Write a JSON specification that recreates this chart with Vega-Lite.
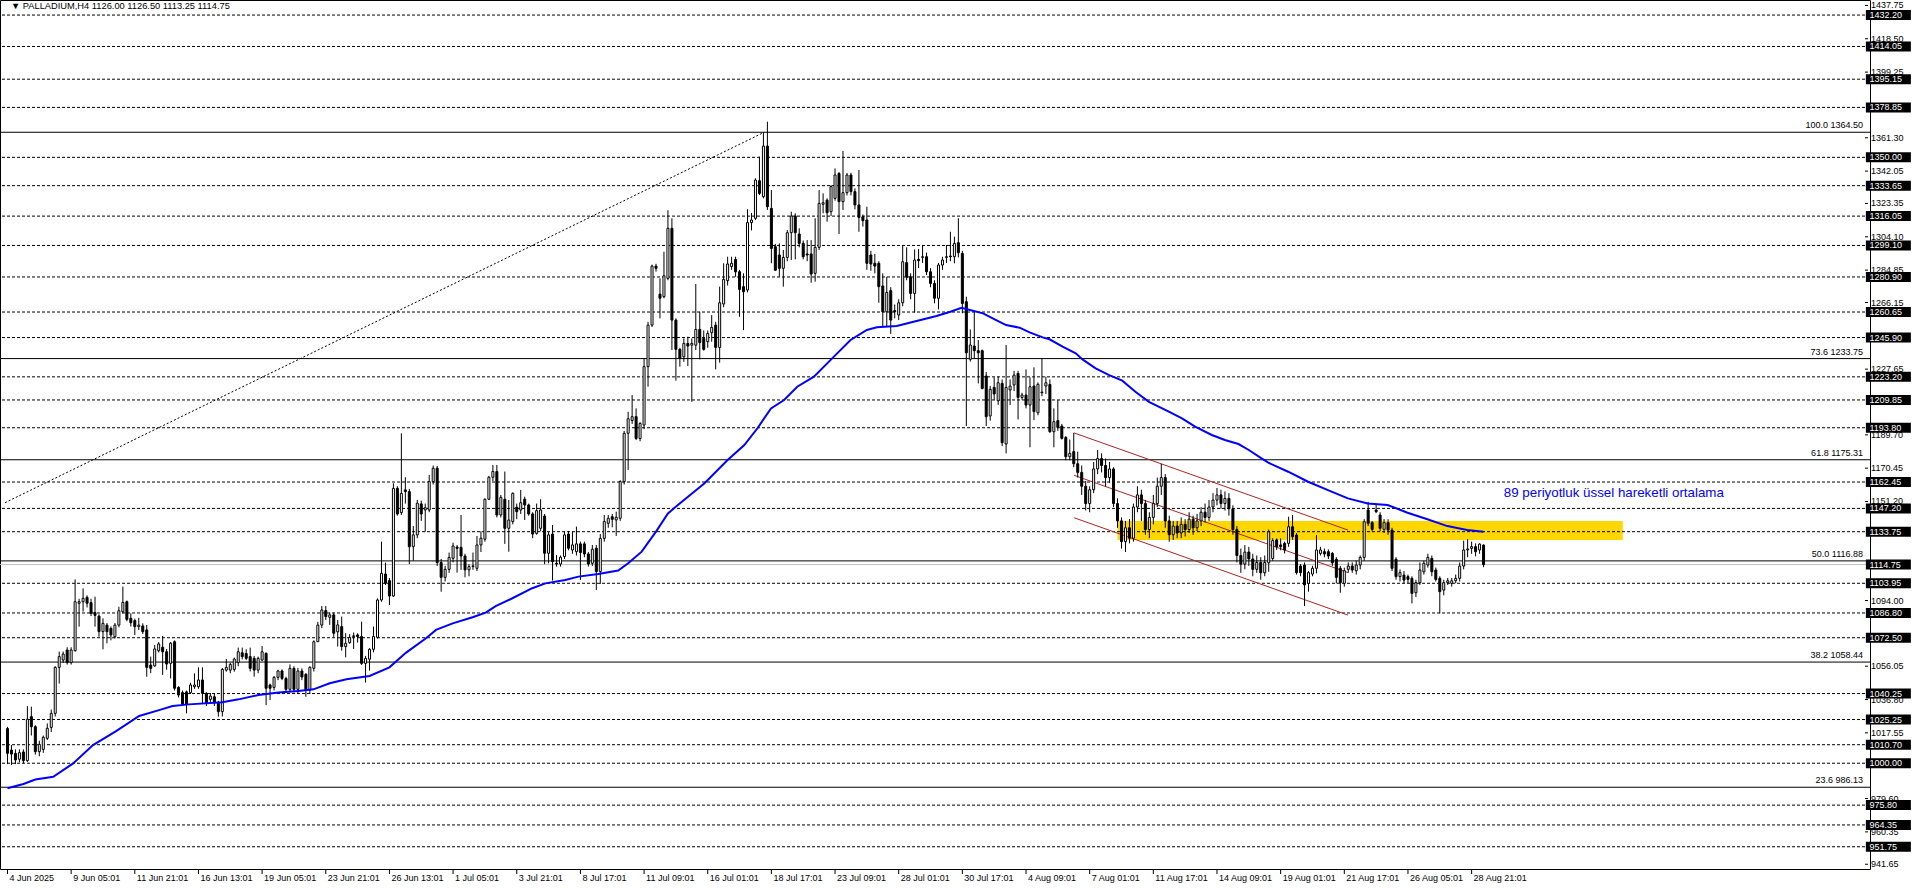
{
"$schema": "https://vega.github.io/schema/vega-lite/v6.json",
"width": 1870, "height": 869,
"autosize": {"type": "none"},
"padding": {"left": 0, "top": 0, "right": 46, "bottom": 19},
"background": "white",
"config": {"view": {"stroke": "black", "strokeWidth": 1}, "font": "Liberation Sans"},
"datasets": {
"candles": [
{"i":0,"o":1020,"h":1021,"l":999.5,"c":1005.7},{"i":1,"o":1007.6,"h":1010.5,"l":999,"c":1005.3},{"i":2,"o":1005.7,"h":1008,"l":999.5,"c":1001.9},{"i":3,"o":1002.3,"h":1008,"l":1000.5,"c":1006.1},{"i":4,"o":1006.5,"h":1008,"l":1000,"c":1001.5},
{"i":5,"o":1001.5,"h":1033,"l":1000.8,"c":1025.4},{"i":6,"o":1026.9,"h":1032.7,"l":1016,"c":1021.1},{"i":7,"o":1021.1,"h":1022,"l":1005,"c":1006.7},{"i":8,"o":1006.7,"h":1013,"l":1004,"c":1010.9},{"i":9,"o":1008,"h":1016,"l":1006,"c":1015},
{"i":10,"o":1014.4,"h":1023,"l":1013.4,"c":1020.2},{"i":11,"o":1020.7,"h":1031,"l":1018,"c":1028.8},{"i":12,"o":1028.8,"h":1056,"l":1027,"c":1055.4},{"i":13,"o":1055.4,"h":1064.5,"l":1046,"c":1061.6},{"i":14,"o":1059.6,"h":1064.5,"l":1058,"c":1063.1},
{"i":15,"o":1065.4,"h":1067,"l":1057,"c":1058.1},{"i":16,"o":1058.1,"h":1067,"l":1057,"c":1065.4},{"i":17,"o":1065,"h":1106.2,"l":1064.5,"c":1093.3},{"i":18,"o":1092.4,"h":1095,"l":1078.9,"c":1093.3},{"i":19,"o":1093.3,"h":1101,"l":1087.6,"c":1095.3},
{"i":20,"o":1095.8,"h":1097,"l":1090,"c":1092.4},{"i":21,"o":1092.8,"h":1095,"l":1085,"c":1086.6},{"i":22,"o":1087,"h":1096.2,"l":1078.9,"c":1085.4},{"i":23,"o":1085,"h":1086,"l":1073.1,"c":1076},{"i":24,"o":1076,"h":1083.7,"l":1065.8,"c":1080.8},
{"i":25,"o":1079.8,"h":1081,"l":1069.3,"c":1076},{"i":26,"o":1077.9,"h":1079,"l":1071,"c":1074.1},{"i":27,"o":1073.1,"h":1081,"l":1072,"c":1079.8},{"i":28,"o":1079.8,"h":1090.4,"l":1078.5,"c":1088.1},{"i":29,"o":1087.5,"h":1102,"l":1086.6,"c":1092.9},
{"i":30,"o":1093.3,"h":1094,"l":1082,"c":1083.1},{"i":31,"o":1083.7,"h":1086.6,"l":1079,"c":1081.2},{"i":32,"o":1082.4,"h":1083.5,"l":1074,"c":1078.9},{"i":33,"o":1078.9,"h":1084,"l":1077,"c":1079.8},{"i":34,"o":1079.3,"h":1080.8,"l":1074.7,"c":1076},
{"i":35,"o":1077,"h":1079.8,"l":1050,"c":1055.4},{"i":36,"o":1056.7,"h":1061.6,"l":1052,"c":1054.8},{"i":37,"o":1056.2,"h":1068.3,"l":1055.8,"c":1066},{"i":38,"o":1065,"h":1070,"l":1064,"c":1068.9},{"i":39,"o":1067,"h":1073.5,"l":1051,"c":1064.4},
{"i":40,"o":1064.4,"h":1066,"l":1054,"c":1057.3},{"i":41,"o":1057.7,"h":1070,"l":1049,"c":1069.3},{"i":42,"o":1070.2,"h":1071,"l":1042,"c":1043.3},{"i":43,"o":1043.8,"h":1044.5,"l":1038,"c":1039.4},{"i":44,"o":1040.8,"h":1042,"l":1033.4,"c":1034.2},
{"i":45,"o":1041.2,"h":1042,"l":1028.8,"c":1034.2},{"i":46,"o":1040.8,"h":1046.5,"l":1040,"c":1045.2},{"i":47,"o":1044.2,"h":1051.9,"l":1043,"c":1045.2},{"i":48,"o":1044.2,"h":1055.4,"l":1043,"c":1048.1},{"i":49,"o":1048.1,"h":1055.4,"l":1034.6,"c":1040.4},
{"i":50,"o":1040.4,"h":1041,"l":1033,"c":1035},{"i":51,"o":1036.9,"h":1040.6,"l":1035,"c":1038.8},{"i":52,"o":1038.4,"h":1040,"l":1033,"c":1035},{"i":53,"o":1035,"h":1036,"l":1026.9,"c":1029.8},{"i":54,"o":1029.8,"h":1055,"l":1027,"c":1054.2},
{"i":55,"o":1053.8,"h":1060.2,"l":1052.9,"c":1055.4},{"i":56,"o":1053.8,"h":1058,"l":1052,"c":1057.1},{"i":57,"o":1054.2,"h":1061,"l":1052.9,"c":1060.2},{"i":58,"o":1058.1,"h":1066.8,"l":1056,"c":1064.4},{"i":59,"o":1063.8,"h":1066.8,"l":1060,"c":1061.6},
{"i":60,"o":1063.4,"h":1065.8,"l":1059.6,"c":1060.6},{"i":61,"o":1061.6,"h":1066.8,"l":1053,"c":1054.8},{"i":62,"o":1060.6,"h":1062,"l":1050,"c":1053.8},{"i":63,"o":1053.8,"h":1061.6,"l":1052,"c":1060.6},{"i":64,"o":1059.6,"h":1067.7,"l":1059,"c":1064.4},
{"i":65,"o":1063.5,"h":1064,"l":1033.6,"c":1043.3},{"i":66,"o":1045.2,"h":1046,"l":1036.5,"c":1043.3},{"i":67,"o":1043.8,"h":1050.4,"l":1042,"c":1049.6},{"i":68,"o":1049.6,"h":1054,"l":1048,"c":1053.3},{"i":69,"o":1053.3,"h":1054.2,"l":1048,"c":1049},
{"i":70,"o":1049,"h":1050,"l":1041,"c":1042.7},{"i":71,"o":1042.7,"h":1057.1,"l":1041,"c":1054.8},{"i":72,"o":1054.8,"h":1056,"l":1041,"c":1042.7},{"i":73,"o":1042.7,"h":1055,"l":1040,"c":1053.3},{"i":74,"o":1053.3,"h":1054.8,"l":1048,"c":1049.8},
{"i":75,"o":1051.4,"h":1052,"l":1038.4,"c":1042.3},{"i":76,"o":1042.3,"h":1056,"l":1040,"c":1055.4},{"i":77,"o":1054.8,"h":1071,"l":1053,"c":1070.2},{"i":78,"o":1070.2,"h":1081.7,"l":1070,"c":1079.8},{"i":79,"o":1079.8,"h":1090.8,"l":1078,"c":1088.5},
{"i":80,"o":1088.2,"h":1090.8,"l":1082.8,"c":1084.7},{"i":81,"o":1084.3,"h":1087,"l":1079.9,"c":1085.7},{"i":82,"o":1085.7,"h":1087,"l":1073,"c":1075.1},{"i":83,"o":1075.9,"h":1082.8,"l":1067.4,"c":1079.9},{"i":84,"o":1078.9,"h":1084.7,"l":1065,"c":1067.4},
{"i":85,"o":1067.4,"h":1075.1,"l":1061.2,"c":1069.3},{"i":86,"o":1069.7,"h":1074.6,"l":1069,"c":1072.7},{"i":87,"o":1073.2,"h":1075.5,"l":1066,"c":1073.6},{"i":88,"o":1074.1,"h":1075.1,"l":1069.7,"c":1073.2},{"i":89,"o":1073.2,"h":1081.8,"l":1056.8,"c":1057.7},
{"i":90,"o":1057.7,"h":1062,"l":1046.6,"c":1060.6},{"i":91,"o":1060.1,"h":1066.5,"l":1053.5,"c":1065.8},{"i":92,"o":1065.8,"h":1078.9,"l":1064,"c":1073.2},{"i":93,"o":1072.7,"h":1095.2,"l":1072,"c":1094.3},{"i":94,"o":1094.3,"h":1128,"l":1093.3,"c":1109.7},
{"i":95,"o":1109.3,"h":1115.9,"l":1103,"c":1103.9},{"i":96,"o":1105.5,"h":1107,"l":1091.4,"c":1096.6},{"i":97,"o":1096.6,"h":1161.7,"l":1096,"c":1158.8},{"i":98,"o":1158.8,"h":1160,"l":1143,"c":1144},{"i":99,"o":1144.8,"h":1190.6,"l":1143.4,"c":1155.9},
{"i":100,"o":1157.9,"h":1165.2,"l":1150,"c":1156.9},{"i":101,"o":1156.9,"h":1158.5,"l":1115.1,"c":1125.1},{"i":102,"o":1125.1,"h":1137,"l":1117,"c":1131.9},{"i":103,"o":1131.9,"h":1152.1,"l":1130,"c":1150.2},{"i":104,"o":1149.8,"h":1151.7,"l":1140,"c":1144},
{"i":105,"o":1146.3,"h":1150,"l":1133.8,"c":1147.6},{"i":106,"o":1146.3,"h":1166.5,"l":1145,"c":1162.7},{"i":107,"o":1162.7,"h":1172,"l":1161,"c":1170.4},{"i":108,"o":1170.4,"h":1171.7,"l":1114,"c":1115.9},{"i":109,"o":1115.9,"h":1118,"l":1099.1,"c":1107.4},
{"i":110,"o":1107.4,"h":1114,"l":1105,"c":1112},{"i":111,"o":1112,"h":1121.7,"l":1110,"c":1118.9},{"i":112,"o":1118.4,"h":1127.4,"l":1116,"c":1125.5},{"i":113,"o":1124.9,"h":1126,"l":1110.1,"c":1124.1},{"i":114,"o":1124.7,"h":1143.4,"l":1111.7,"c":1119.7},
{"i":115,"o":1119.7,"h":1121,"l":1107.4,"c":1111.7},{"i":116,"o":1111.7,"h":1115,"l":1108,"c":1113.6},{"i":117,"o":1113.6,"h":1121.7,"l":1111.7,"c":1114},{"i":118,"o":1112.6,"h":1131.3,"l":1111,"c":1126.1},{"i":119,"o":1126.1,"h":1134,"l":1122,"c":1130},
{"i":120,"o":1129.4,"h":1153,"l":1128,"c":1152.5},{"i":121,"o":1152.5,"h":1166,"l":1152,"c":1165.2},{"i":122,"o":1165.2,"h":1172.3,"l":1163,"c":1168.5},{"i":123,"o":1168.5,"h":1172.3,"l":1142,"c":1143.4},{"i":124,"o":1143.4,"h":1155,"l":1142,"c":1153.6},
{"i":125,"o":1152.5,"h":1168.5,"l":1126.7,"c":1135.7},{"i":126,"o":1135.7,"h":1152.1,"l":1122.2,"c":1140.5},{"i":127,"o":1139.6,"h":1156.5,"l":1138,"c":1155.9},{"i":128,"o":1147.9,"h":1150,"l":1141,"c":1145.3},{"i":129,"o":1146.3,"h":1157.9,"l":1144,"c":1150.5},
{"i":130,"o":1152.5,"h":1154,"l":1140.5,"c":1149.2},{"i":131,"o":1149.2,"h":1150,"l":1143,"c":1144},{"i":132,"o":1144,"h":1145,"l":1130,"c":1132.4},{"i":133,"o":1132.8,"h":1150,"l":1132,"c":1145.9},{"i":134,"o":1135.7,"h":1152.5,"l":1134,"c":1146.3},
{"i":135,"o":1142.8,"h":1144,"l":1115,"c":1121.3},{"i":136,"o":1121.3,"h":1133.5,"l":1115.5,"c":1131.9},{"i":137,"o":1132.4,"h":1137.6,"l":1105.5,"c":1116.5},{"i":138,"o":1115.5,"h":1120.3,"l":1113.6,"c":1115.1},{"i":139,"o":1115.1,"h":1120,"l":1113.6,"c":1119},
{"i":140,"o":1119.4,"h":1133.8,"l":1118,"c":1131.9},{"i":141,"o":1132.4,"h":1134.2,"l":1123,"c":1124.2},{"i":142,"o":1123.2,"h":1133.8,"l":1121,"c":1126.1},{"i":143,"o":1122.2,"h":1136.7,"l":1120,"c":1126.7},{"i":144,"o":1126.7,"h":1128,"l":1105.9,"c":1121.7},
{"i":145,"o":1126.7,"h":1128,"l":1119,"c":1120.9},{"i":146,"o":1120.9,"h":1122,"l":1113.6,"c":1115.1},{"i":147,"o":1115.5,"h":1126.1,"l":1114,"c":1123.6},{"i":148,"o":1124.2,"h":1126.1,"l":1100.1,"c":1110.7},{"i":149,"o":1110.7,"h":1132.4,"l":1103.6,"c":1129.9},
{"i":150,"o":1129.9,"h":1143.4,"l":1128,"c":1139.6},{"i":151,"o":1138.6,"h":1143.4,"l":1136,"c":1141.5},{"i":152,"o":1142.4,"h":1144,"l":1136.3,"c":1140.9},{"i":153,"o":1140.5,"h":1145.3,"l":1131.3,"c":1142.1},{"i":154,"o":1141.5,"h":1163.5,"l":1140,"c":1162.7},
{"i":155,"o":1162.7,"h":1192,"l":1161,"c":1190.6},{"i":156,"o":1190.6,"h":1203,"l":1169.4,"c":1199},{"i":157,"o":1198,"h":1212.7,"l":1196,"c":1200.2},{"i":158,"o":1200.2,"h":1205,"l":1186.7,"c":1187.6},{"i":159,"o":1187.6,"h":1197,"l":1186,"c":1196.3},
{"i":160,"o":1195.4,"h":1234,"l":1193,"c":1229.1},{"i":161,"o":1229.1,"h":1255,"l":1217.5,"c":1253.1},{"i":162,"o":1253.1,"h":1288,"l":1252,"c":1287.2},{"i":163,"o":1287.2,"h":1288.5,"l":1284,"c":1285.9},{"i":164,"o":1271,"h":1280.1,"l":1257,"c":1268.6},
{"i":165,"o":1269.5,"h":1295.5,"l":1268.6,"c":1281.6},{"i":166,"o":1280.1,"h":1319.4,"l":1279,"c":1309},{"i":167,"o":1309,"h":1314.8,"l":1238.7,"c":1256},{"i":168,"o":1256,"h":1257,"l":1221,"c":1239.1},{"i":169,"o":1239.1,"h":1240,"l":1229.1,"c":1233.9},
{"i":170,"o":1234.8,"h":1245.4,"l":1231.9,"c":1242.5},{"i":171,"o":1242.5,"h":1246.4,"l":1229.5,"c":1241},{"i":172,"o":1241.5,"h":1245.4,"l":1208.8,"c":1242.5},{"i":173,"o":1241.5,"h":1276.8,"l":1238.7,"c":1250.6},{"i":174,"o":1250.6,"h":1260.8,"l":1233.3,"c":1243},
{"i":175,"o":1245.4,"h":1250,"l":1238.3,"c":1239.1},{"i":176,"o":1243.5,"h":1250,"l":1240,"c":1248.3},{"i":177,"o":1248.7,"h":1258.9,"l":1243.5,"c":1251.8},{"i":178,"o":1253.1,"h":1255,"l":1227.5,"c":1240.2},{"i":179,"o":1240.2,"h":1275.3,"l":1231.4,"c":1266},
{"i":180,"o":1265.3,"h":1288.8,"l":1263.4,"c":1279.5},{"i":181,"o":1278.8,"h":1292.6,"l":1276,"c":1288.4},{"i":182,"o":1286.9,"h":1292.6,"l":1285,"c":1288.8},{"i":183,"o":1291,"h":1292.6,"l":1281,"c":1283.9},{"i":184,"o":1283.9,"h":1285,"l":1257.9,"c":1273.7},
{"i":185,"o":1275.3,"h":1283,"l":1250.2,"c":1272.4},{"i":186,"o":1273.4,"h":1320,"l":1272,"c":1312.3},{"i":187,"o":1312.3,"h":1317.9,"l":1307.8,"c":1313.8},{"i":188,"o":1314.8,"h":1337.9,"l":1313.8,"c":1336.9},{"i":189,"o":1336.5,"h":1350.4,"l":1328.2,"c":1329.2},
{"i":190,"o":1327.3,"h":1364.3,"l":1326.3,"c":1356.5},{"i":191,"o":1356.5,"h":1370.6,"l":1319.6,"c":1321.5},{"i":192,"o":1320.5,"h":1331.1,"l":1288.8,"c":1297.4},{"i":193,"o":1298.4,"h":1300,"l":1284.5,"c":1284.8},{"i":194,"o":1293.6,"h":1300.3,"l":1281.1,"c":1285.9},
{"i":195,"o":1285.9,"h":1296.5,"l":1275.3,"c":1292.2},{"i":196,"o":1292.2,"h":1308,"l":1290,"c":1306.5},{"i":197,"o":1306.5,"h":1318.6,"l":1290.7,"c":1316.1},{"i":198,"o":1316.1,"h":1317.7,"l":1291.1,"c":1306.5},{"i":199,"o":1305.7,"h":1309,"l":1298,"c":1300.3},
{"i":200,"o":1300.3,"h":1302,"l":1291.1,"c":1292.6},{"i":201,"o":1294.2,"h":1302.2,"l":1290,"c":1293.6},{"i":202,"o":1294.2,"h":1302.2,"l":1277.6,"c":1282.6},{"i":203,"o":1283,"h":1314.8,"l":1278.2,"c":1298},{"i":204,"o":1298,"h":1331.1,"l":1296.5,"c":1323.4},
{"i":205,"o":1322.9,"h":1329.2,"l":1317.7,"c":1323.8},{"i":206,"o":1325.3,"h":1326.3,"l":1312.8,"c":1318},{"i":207,"o":1318.6,"h":1334,"l":1316.1,"c":1333.1},{"i":208,"o":1326.3,"h":1343.6,"l":1325,"c":1339.8},{"i":209,"o":1340.7,"h":1341.5,"l":1305.7,"c":1324.4},
{"i":210,"o":1324.4,"h":1353.7,"l":1319.6,"c":1329.6},{"i":211,"o":1329.6,"h":1341,"l":1328,"c":1339.8},{"i":212,"o":1339.8,"h":1341.1,"l":1328,"c":1330.2},{"i":213,"o":1330.2,"h":1332.1,"l":1320,"c":1322.5},{"i":214,"o":1322.5,"h":1342.7,"l":1307,"c":1315.3},
{"i":215,"o":1315.7,"h":1317,"l":1310,"c":1313.4},{"i":216,"o":1313.8,"h":1321.5,"l":1285,"c":1288.8},{"i":217,"o":1293.6,"h":1296,"l":1284.5,"c":1288.4},{"i":218,"o":1288.8,"h":1294.2,"l":1283,"c":1287.2},{"i":219,"o":1288.8,"h":1290,"l":1266,"c":1275.3},
{"i":220,"o":1275.7,"h":1283,"l":1252.5,"c":1260.8},{"i":221,"o":1260.8,"h":1281,"l":1252.5,"c":1272},{"i":222,"o":1273,"h":1275,"l":1248,"c":1256},{"i":223,"o":1261.5,"h":1265,"l":1257,"c":1260.8},{"i":224,"o":1258.9,"h":1268,"l":1256,"c":1266},
{"i":225,"o":1266,"h":1299,"l":1264,"c":1289.7},{"i":226,"o":1289.2,"h":1298,"l":1279,"c":1280.7},{"i":227,"o":1281,"h":1283,"l":1268,"c":1271.4},{"i":228,"o":1271.4,"h":1296.8,"l":1260.3,"c":1290.7},{"i":229,"o":1291.1,"h":1297,"l":1286,"c":1290.3},
{"i":230,"o":1292.2,"h":1299.4,"l":1289,"c":1292.6},{"i":231,"o":1292.6,"h":1295,"l":1282,"c":1283.9},{"i":232,"o":1283.9,"h":1286,"l":1275,"c":1277.2},{"i":233,"o":1277.2,"h":1279,"l":1265.7,"c":1268.6},{"i":234,"o":1268.6,"h":1289,"l":1262.2,"c":1287.8},
{"i":235,"o":1287.8,"h":1292.5,"l":1285,"c":1290.7},{"i":236,"o":1292.2,"h":1299.4,"l":1289,"c":1292.6},{"i":237,"o":1293,"h":1307,"l":1290,"c":1292.6},{"i":238,"o":1292.6,"h":1304.2,"l":1288.8,"c":1300.3},{"i":239,"o":1300.7,"h":1314.8,"l":1292.2,"c":1294.9},
{"i":240,"o":1294.5,"h":1296,"l":1259.9,"c":1265.6},{"i":241,"o":1266.6,"h":1269.5,"l":1194.8,"c":1237.1},{"i":242,"o":1233.3,"h":1250.6,"l":1232,"c":1241.6},{"i":243,"o":1241,"h":1260.8,"l":1234,"c":1238.3},{"i":244,"o":1238.3,"h":1244.5,"l":1219.4,"c":1237.1},
{"i":245,"o":1238.3,"h":1239,"l":1216,"c":1216.5},{"i":246,"o":1223.7,"h":1226,"l":1194.8,"c":1200.2},{"i":247,"o":1200.6,"h":1218,"l":1197.9,"c":1216},{"i":248,"o":1217.1,"h":1222.9,"l":1210,"c":1213.3},{"i":249,"o":1209.4,"h":1223.3,"l":1207,"c":1219.8},
{"i":250,"o":1219.4,"h":1221.7,"l":1183.2,"c":1185.2},{"i":251,"o":1184.4,"h":1241.6,"l":1179,"c":1217.1},{"i":252,"o":1215.6,"h":1221.7,"l":1206.9,"c":1217.9},{"i":253,"o":1218.5,"h":1226.7,"l":1215,"c":1224.2},{"i":254,"o":1225.2,"h":1226.7,"l":1198.6,"c":1211.3},
{"i":255,"o":1211.3,"h":1214,"l":1210,"c":1212.7},{"i":256,"o":1212.7,"h":1227.5,"l":1205,"c":1206.9},{"i":257,"o":1206.9,"h":1222.9,"l":1182.5,"c":1217.5},{"i":258,"o":1217.9,"h":1228.7,"l":1198.2,"c":1203.1},{"i":259,"o":1202.5,"h":1220,"l":1201,"c":1218.9},
{"i":260,"o":1214.4,"h":1233.9,"l":1212,"c":1214},{"i":261,"o":1217.9,"h":1223.3,"l":1213.3,"c":1219.8},{"i":262,"o":1218.8,"h":1221.7,"l":1190.9,"c":1191.5},{"i":263,"o":1191.5,"h":1205,"l":1182.5,"c":1197.3},{"i":264,"o":1197.9,"h":1209.8,"l":1192,"c":1194},
{"i":265,"o":1194.8,"h":1196,"l":1187,"c":1187.7},{"i":266,"o":1188.2,"h":1189,"l":1175,"c":1177.1},{"i":267,"o":1177.1,"h":1187,"l":1175,"c":1179},{"i":268,"o":1180,"h":1190.9,"l":1171,"c":1173},{"i":269,"o":1173,"h":1180,"l":1165,"c":1168},
{"i":270,"o":1168,"h":1172,"l":1155,"c":1160},{"i":271,"o":1160,"h":1163,"l":1146,"c":1150},{"i":272,"o":1150,"h":1160,"l":1145,"c":1158},{"i":273,"o":1158,"h":1174,"l":1156,"c":1170},{"i":274,"o":1170,"h":1181,"l":1167,"c":1176},
{"i":275,"o":1176,"h":1179,"l":1168,"c":1172},{"i":276,"o":1172,"h":1176,"l":1160,"c":1165},{"i":277,"o":1165,"h":1174,"l":1162,"c":1170},{"i":278,"o":1170,"h":1171,"l":1148,"c":1150},{"i":279,"o":1150,"h":1153,"l":1136,"c":1140},
{"i":280,"o":1140,"h":1142,"l":1124,"c":1128},{"i":281,"o":1128,"h":1140,"l":1122,"c":1136},{"i":282,"o":1136,"h":1141,"l":1127,"c":1130},{"i":283,"o":1130,"h":1150,"l":1128,"c":1148},{"i":284,"o":1148,"h":1160,"l":1145,"c":1155},
{"i":285,"o":1155,"h":1158,"l":1140,"c":1150},{"i":286,"o":1150,"h":1152,"l":1132,"c":1135},{"i":287,"o":1135,"h":1145,"l":1130,"c":1142},{"i":288,"o":1142,"h":1155,"l":1138,"c":1150},{"i":289,"o":1150,"h":1165,"l":1148,"c":1160},
{"i":290,"o":1160,"h":1173,"l":1155,"c":1165},{"i":291,"o":1165,"h":1167,"l":1136,"c":1140},{"i":292,"o":1140,"h":1143,"l":1128,"c":1132},{"i":293,"o":1132,"h":1140,"l":1129,"c":1137},{"i":294,"o":1137,"h":1140,"l":1130,"c":1133},
{"i":295,"o":1133,"h":1142,"l":1130,"c":1138},{"i":296,"o":1138,"h":1141,"l":1131,"c":1135},{"i":297,"o":1135,"h":1145,"l":1133,"c":1141},{"i":298,"o":1141,"h":1143,"l":1132,"c":1136},{"i":299,"o":1136,"h":1144,"l":1134,"c":1140},
{"i":300,"o":1140,"h":1148,"l":1137,"c":1145},{"i":301,"o":1145,"h":1150,"l":1139,"c":1142},{"i":302,"o":1142,"h":1152,"l":1140,"c":1148},{"i":303,"o":1148,"h":1156,"l":1145,"c":1152},{"i":304,"o":1152,"h":1159,"l":1149,"c":1155},
{"i":305,"o":1155,"h":1158,"l":1147,"c":1150},{"i":306,"o":1150,"h":1157,"l":1146,"c":1153},{"i":307,"o":1153,"h":1156,"l":1143,"c":1147},{"i":308,"o":1147,"h":1149,"l":1132,"c":1135},{"i":309,"o":1135,"h":1137,"l":1116,"c":1120},
{"i":310,"o":1120,"h":1124,"l":1110,"c":1115},{"i":311,"o":1115,"h":1126,"l":1112,"c":1122},{"i":312,"o":1122,"h":1125,"l":1114,"c":1118},{"i":313,"o":1118,"h":1121,"l":1108,"c":1112},{"i":314,"o":1112,"h":1120,"l":1110,"c":1116},
{"i":315,"o":1116,"h":1119,"l":1106,"c":1110},{"i":316,"o":1110,"h":1120,"l":1108,"c":1116},{"i":317,"o":1115.8,"h":1135,"l":1110.6,"c":1133.7},{"i":318,"o":1118.3,"h":1130,"l":1117,"c":1128.6},{"i":319,"o":1129,"h":1129.9,"l":1123.2,"c":1125.1},
{"i":320,"o":1126.1,"h":1129.9,"l":1123,"c":1125.1},{"i":321,"o":1127,"h":1128,"l":1121.2,"c":1123.2},{"i":322,"o":1127,"h":1142.4,"l":1125,"c":1136.6},{"i":323,"o":1136.6,"h":1143.4,"l":1129,"c":1130.9},{"i":324,"o":1131.8,"h":1133,"l":1109,"c":1110.1},
{"i":325,"o":1113.9,"h":1115,"l":1108,"c":1110.1},{"i":326,"o":1114.5,"h":1116,"l":1090.8,"c":1103},{"i":327,"o":1103.9,"h":1111,"l":1099.1,"c":1110.1},{"i":328,"o":1109.3,"h":1114,"l":1108,"c":1112.6},{"i":329,"o":1112.6,"h":1131.8,"l":1109.7,"c":1123.2},
{"i":330,"o":1121.2,"h":1125,"l":1120,"c":1123.2},{"i":331,"o":1122.2,"h":1124,"l":1119,"c":1120.9},{"i":332,"o":1122.2,"h":1123.5,"l":1118,"c":1119.7},{"i":333,"o":1121.2,"h":1122,"l":1114,"c":1115.8},{"i":334,"o":1117.8,"h":1119,"l":1103.9,"c":1107.4},
{"i":335,"o":1112.6,"h":1114,"l":1098.5,"c":1104.3},{"i":336,"o":1103.9,"h":1113,"l":1102,"c":1111.2},{"i":337,"o":1112,"h":1116,"l":1110,"c":1113.9},{"i":338,"o":1113.9,"h":1116,"l":1110,"c":1111.6},{"i":339,"o":1111.2,"h":1117,"l":1109,"c":1114.5},
{"i":340,"o":1114.5,"h":1120,"l":1112,"c":1118.9},{"i":341,"o":1118.9,"h":1141,"l":1117,"c":1139.5},{"i":342,"o":1146.3,"h":1151,"l":1137,"c":1138.6},{"i":343,"o":1139,"h":1140,"l":1134,"c":1135.1},{"i":344,"o":1146.3,"h":1149.2,"l":1144.5,"c":1145.3},
{"i":345,"o":1143.4,"h":1145,"l":1134,"c":1135.7},{"i":346,"o":1135.1,"h":1141,"l":1133,"c":1139},{"i":347,"o":1139,"h":1141,"l":1132,"c":1134.7},{"i":348,"o":1134.7,"h":1136,"l":1111,"c":1112.6},{"i":349,"o":1117.8,"h":1119,"l":1106,"c":1107.8},
{"i":350,"o":1107.8,"h":1112,"l":1105,"c":1110.1},{"i":351,"o":1108.7,"h":1111,"l":1104,"c":1105.8},{"i":352,"o":1107.8,"h":1109,"l":1104,"c":1106.2},{"i":353,"o":1106.8,"h":1108,"l":1092.3,"c":1098.1},{"i":354,"o":1098.5,"h":1106,"l":1096,"c":1104.3},
{"i":355,"o":1104.3,"h":1116,"l":1103,"c":1111.6},{"i":356,"o":1110.6,"h":1117,"l":1109,"c":1115.5},{"i":357,"o":1114.5,"h":1121,"l":1113,"c":1118.9},{"i":358,"o":1118.3,"h":1120,"l":1108,"c":1110.6},{"i":359,"o":1111.6,"h":1113,"l":1105,"c":1106.2},
{"i":360,"o":1106.8,"h":1108,"l":1086.6,"c":1099.1},{"i":361,"o":1100,"h":1106,"l":1097,"c":1104.3},{"i":362,"o":1104.3,"h":1107,"l":1103,"c":1105.4},{"i":363,"o":1103.9,"h":1107,"l":1102,"c":1105.4},{"i":364,"o":1105.4,"h":1109,"l":1104,"c":1106.8},
{"i":365,"o":1106.8,"h":1116,"l":1105,"c":1113.9},{"i":366,"o":1113.9,"h":1128.6,"l":1112,"c":1123.2},{"i":367,"o":1123.2,"h":1129.5,"l":1119,"c":1123.8},{"i":368,"o":1124.1,"h":1128,"l":1121,"c":1125.1},{"i":369,"o":1125.1,"h":1127,"l":1119.5,"c":1122.2},
{"i":370,"o":1123.2,"h":1127,"l":1121,"c":1126.6},{"i":371,"o":1126,"h":1126.5,"l":1113.25,"c":1114.75}
],
"ema": [
{"i":0,"p":985.5},{"i":4,"p":988},{"i":7,"p":990.6},{"i":11.5,"p":992.2},{"i":16.5,"p":999.9},{"i":21.5,"p":1010.5},{"i":27.3,"p":1018.6},{"i":33.1,"p":1027.3},{"i":38.1,"p":1030.7},{"i":41.5,"p":1033.1},{"i":45.6,"p":1034},{"i":54,"p":1035.2},{"i":58.1,"p":1036.9},{"i":63.1,"p":1039.4},{"i":68.1,"p":1040.8},{"i":73.1,"p":1041.7},{"i":76.9,"p":1042.7},{"i":81,"p":1046.2},{"i":85.2,"p":1048.5},{"i":91,"p":1050.4},{"i":96,"p":1055.4},{"i":100.2,"p":1063.9},{"i":105.2,"p":1072.2},{"i":107.7,"p":1077},{"i":111.9,"p":1080.8},{"i":116.9,"p":1084.3},{"i":120.2,"p":1087},{"i":122.7,"p":1090.8},{"i":126.9,"p":1095.3},{"i":131.9,"p":1101.1},{"i":135.2,"p":1103.9},{"i":140.2,"p":1105.9},{"i":143.5,"p":1107.8},{"i":148.5,"p":1109.3},{"i":153.5,"p":1111.3},{"i":156,"p":1115.5},{"i":159.4,"p":1122.2},{"i":163,"p":1133.8},{"i":166,"p":1144.3},{"i":168.5,"p":1149.2},{"i":175.2,"p":1161.7},{"i":181,"p":1175.2},{"i":185.2,"p":1183.8},{"i":188.5,"p":1193.5},{"i":191.9,"p":1205},{"i":195.2,"p":1209.8},{"i":198.5,"p":1217.5},{"i":202.7,"p":1223.3},{"i":206.9,"p":1233},{"i":211.9,"p":1244.5},{"i":216,"p":1250.3},{"i":218.5,"p":1251.8},{"i":223.5,"p":1252.6},{"i":228.5,"p":1255.5},{"i":233.5,"p":1258.4},{"i":237,"p":1260.8},{"i":239.8,"p":1263.1},{"i":241.9,"p":1261.8},{"i":245.2,"p":1259.9},{"i":248.5,"p":1256},{"i":251,"p":1253.1},{"i":254.4,"p":1251.6},{"i":256.9,"p":1248.9},{"i":260.2,"p":1246},{"i":261.9,"p":1244.9},{"i":265.2,"p":1240.6},{"i":268.5,"p":1236.8},{"i":270.2,"p":1233.3},{"i":273.5,"p":1228.1},{"i":276.9,"p":1224.2},{"i":280.2,"p":1221},{"i":283.5,"p":1214.6},{"i":286.9,"p":1208.8},{"i":291.9,"p":1203.1},{"i":295.2,"p":1199.2},{"i":298.5,"p":1194.4},{"i":302.7,"p":1189.6},{"i":306,"p":1186.7},{"i":309.4,"p":1184.4},{"i":311.9,"p":1181.1},{"i":315.2,"p":1176.1},{"i":316.9,"p":1173.6},{"i":321.9,"p":1168.4},{"i":326.9,"p":1162.6},{"i":331.9,"p":1157.8},{"i":336.9,"p":1153},{"i":341.9,"p":1150.1},{"i":346.9,"p":1149.2},{"i":351.9,"p":1144.7},{"i":356.9,"p":1140.9},{"i":361.9,"p":1137},{"i":366.9,"p":1134.7},{"i":371,"p":1133.7}
],
"dashed": [{"p":1432.2},{"p":1414.05},{"p":1395.15},{"p":1378.85},{"p":1350},{"p":1333.65},{"p":1316.05},{"p":1299.1},{"p":1280.9},{"p":1260.65},{"p":1245.9},{"p":1223.2},{"p":1209.85},{"p":1193.8},{"p":1162.45},{"p":1147.2},{"p":1133.75},{"p":1103.95},{"p":1086.8},{"p":1072.5},{"p":1040.25},{"p":1025.25},{"p":1010.7},{"p":1000},{"p":975.8},{"p":964.35},{"p":951.75}],
"boxes": [{"p":1432.2},{"p":1414.05},{"p":1395.15},{"p":1378.85},{"p":1350},{"p":1333.65},{"p":1316.05},{"p":1299.1},{"p":1280.9},{"p":1260.65},{"p":1245.9},{"p":1223.2},{"p":1209.85},{"p":1193.8},{"p":1162.45},{"p":1147.2},{"p":1133.75},{"p":1114.75},{"p":1103.95},{"p":1086.8},{"p":1072.5},{"p":1040.25},{"p":1025.25},{"p":1010.7},{"p":1000},{"p":975.8},{"p":964.35},{"p":951.75}],
"ticksy": [{"p":1437.75},{"p":1418.5},{"p":1399.25},{"p":1361.3},{"p":1342.05},{"p":1323.35},{"p":1304.1},{"p":1284.85},{"p":1266.15},{"p":1227.65},{"p":1189.7},{"p":1170.45},{"p":1151.2},{"p":1094},{"p":1056.05},{"p":1036.8},{"p":1017.55},{"p":979.6},{"p":960.35},{"p":941.65}],
"ticksx": [{"i":0,"t":"4 Jun 2025"},{"i":16,"t":"9 Jun 05:01"},{"i":32,"t":"11 Jun 21:01"},{"i":48,"t":"16 Jun 13:01"},{"i":64,"t":"19 Jun 05:01"},{"i":80,"t":"23 Jun 21:01"},{"i":96,"t":"26 Jun 13:01"},{"i":112,"t":"1 Jul 05:01"},{"i":128,"t":"3 Jul 21:01"},{"i":144,"t":"8 Jul 17:01"},{"i":160,"t":"11 Jul 09:01"},{"i":176,"t":"16 Jul 01:01"},{"i":192,"t":"18 Jul 17:01"},{"i":208,"t":"23 Jul 09:01"},{"i":224,"t":"28 Jul 01:01"},{"i":240,"t":"30 Jul 17:01"},{"i":256,"t":"4 Aug 09:01"},{"i":272,"t":"7 Aug 01:01"},{"i":288,"t":"11 Aug 17:01"},{"i":304,"t":"14 Aug 09:01"},{"i":320,"t":"19 Aug 01:01"},{"i":336,"t":"21 Aug 17:01"},{"i":352,"t":"26 Aug 05:01"},{"i":368,"t":"28 Aug 21:01"}],
"fib": [{"p":1364.5,"t":"100.0 1364.50"},{"p":1233.75,"t":"73.6 1233.75"},{"p":1175.31,"t":"61.8 1175.31"},{"p":1116.88,"t":"50.0 1116.88"},{"p":1058.44,"t":"38.2 1058.44"},{"p":986.13,"t":"23.6 986.13"}],
"trend": [{"i":-0.625,"p":1150.5},{"i":190.2,"p":1364.5}],
"channel": [{"g":"a","i":268.1,"p":1190.8},{"g":"a","i":336.9,"p":1134.7},{"g":"m","i":268.1,"p":1166.3},{"g":"m","i":336.9,"p":1110.15},{"g":"b","i":268.1,"p":1141.8},{"g":"b","i":336.9,"p":1085.6}],
"zone": [{"x1":279,"x2":406,"p1":1129.0,"p2":1139.9}]
},
"layer": [
{"data": {"name": "zone"}, "mark": {"type": "rect", "fill": "#FFD700"},
 "encoding": {"x": {"field": "x1", "type": "quantitative", "scale": {"domain": [-0.625, 466.875], "nice": false, "zero": false}, "axis": null}, "x2": {"field": "x2"},
  "y": {"field": "p1", "type": "quantitative", "scale": {"domain": [938.9, 1440.9], "nice": false, "zero": false}, "axis": null}, "y2": {"field": "p2"}}},
{"data": {"name": "dashed"}, "mark": {"type": "rule", "color": "black", "strokeWidth": 1, "strokeDash": [3, 2]},
 "encoding": {"y": {"field": "p", "type": "quantitative", "axis": null}}},
{"data": {"name": "fib"}, "mark": {"type": "rule", "color": "black", "strokeWidth": 1},
 "encoding": {"y": {"field": "p", "type": "quantitative", "axis": null}}},
{"data": {"values": [{"p": 1114.75}]}, "mark": {"type": "rule", "color": "#C0C0C0", "strokeWidth": 1},
 "encoding": {"y": {"field": "p", "type": "quantitative", "axis": null}}},
{"data": {"name": "trend"}, "mark": {"type": "line", "color": "black", "strokeWidth": 1, "strokeDash": [2, 2]},
 "encoding": {"x": {"field": "i", "type": "quantitative", "axis": null}, "y": {"field": "p", "type": "quantitative", "axis": null}}},
{"data": {"name": "channel"}, "mark": {"type": "line", "color": "#B22222", "strokeWidth": 1},
 "encoding": {"x": {"field": "i", "type": "quantitative", "axis": null}, "y": {"field": "p", "type": "quantitative", "axis": null}, "detail": {"field": "g"}}},
{"data": {"name": "candles"}, "mark": {"type": "rule", "color": "black", "strokeWidth": 1},
 "encoding": {"x": {"field": "i", "type": "quantitative", "scale": {"domain": [-0.625, 466.875], "nice": false, "zero": false}, "axis": null},
  "y": {"field": "l", "type": "quantitative", "scale": {"domain": [938.9, 1440.9], "nice": false, "zero": false}, "axis": null}, "y2": {"field": "h"}}},
{"data": {"name": "candles"}, "mark": {"type": "bar", "orient": "vertical", "width": 2, "stroke": "black", "strokeWidth": 1},
 "encoding": {"x": {"field": "i", "type": "quantitative", "axis": null}, "y": {"field": "o", "type": "quantitative", "axis": null}, "y2": {"field": "c"},
  "fill": {"condition": {"test": "datum.c >= datum.o", "value": "white"}, "value": "black"}}},
{"data": {"name": "ema"}, "mark": {"type": "line", "color": "#0000FF", "strokeWidth": 2},
 "encoding": {"x": {"field": "i", "type": "quantitative", "axis": null}, "y": {"field": "p", "type": "quantitative", "axis": null}}},
{"data": {"values": [{"t": "89 periyotluk üssel hareketli ortalama"}]}, "mark": {"type": "text", "align": "left", "baseline": "middle", "fontSize": 13.33, "font": "Liberation Sans", "fill": "#0000FF"},
 "encoding": {"x": {"datum": 376.1, "type": "quantitative", "axis": null}, "y": {"datum": 1155.9, "type": "quantitative", "axis": null}, "text": {"field": "t"}}},
{"data": {"name": "fib"}, "mark": {"type": "text", "align": "right", "baseline": "bottom", "dy": -2, "fontSize": 9, "font": "Liberation Sans", "fill": "black"},
 "encoding": {"x": {"datum": 466.375, "type": "quantitative", "axis": null}, "y": {"field": "p", "type": "quantitative", "axis": null}, "text": {"field": "t"}}},
{"data": {"name": "ticksx"}, "mark": {"type": "rule", "color": "black", "strokeWidth": 1},
 "encoding": {"x": {"field": "i", "type": "quantitative", "axis": null}, "y": {"datum": 938.9, "type": "quantitative", "axis": null}, "y2": {"datum": 936.0}}},
{"data": {"name": "ticksx"}, "mark": {"type": "text", "align": "left", "baseline": "middle", "dx": 2, "fontSize": 9, "font": "Liberation Sans", "fill": "black"},
 "encoding": {"x": {"field": "i", "type": "quantitative", "axis": null}, "y": {"datum": 933.6, "type": "quantitative", "axis": null}, "text": {"field": "t"}}},
{"data": {"name": "ticksy"}, "mark": {"type": "rule", "color": "black", "strokeWidth": 1},
 "encoding": {"x": {"datum": 466.875, "type": "quantitative", "axis": null}, "x2": {"datum": 467.625}, "y": {"field": "p", "type": "quantitative", "axis": null}}},
{"data": {"name": "ticksy"}, "mark": {"type": "text", "align": "left", "baseline": "middle", "fontSize": 9, "font": "Liberation Sans", "fill": "black"},
 "encoding": {"x": {"datum": 468.4, "type": "quantitative", "axis": null}, "y": {"field": "p", "type": "quantitative", "axis": null}, "text": {"field": "p", "type": "quantitative", "format": ".2f"}}},
{"data": {"name": "boxes"}, "mark": {"type": "tick", "orient": "vertical", "size": 10, "thickness": 45, "color": "black", "opacity": 1},
 "encoding": {"x": {"datum": 472.75, "type": "quantitative", "axis": null}, "y": {"field": "p", "type": "quantitative", "axis": null}}},
{"data": {"name": "boxes"}, "mark": {"type": "text", "align": "left", "baseline": "middle", "fontSize": 9, "font": "Liberation Sans", "fill": "white"},
 "encoding": {"x": {"datum": 468.0, "type": "quantitative", "axis": null}, "y": {"field": "p", "type": "quantitative", "axis": null}, "text": {"field": "p", "type": "quantitative", "format": ".2f"}}},
{"data": {"values": [{"t": "▼ PALLADIUM,H4  1126.00 1126.50 1113.25 1114.75"}]}, "mark": {"type": "text", "align": "left", "baseline": "middle", "fontSize": 9.3, "font": "Liberation Sans", "fill": "black"},
 "encoding": {"x": {"datum": 0.875, "type": "quantitative", "axis": null}, "y": {"datum": 1437.3, "type": "quantitative", "axis": null}, "text": {"field": "t"}}}
]
}
